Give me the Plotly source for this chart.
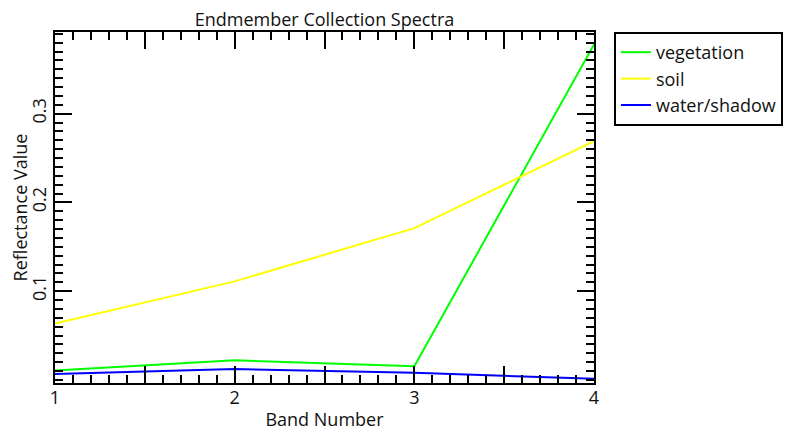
import plotly.graph_objects as go

bands = [1, 2, 3, 4]
vegetation = [0.0107, 0.0220, 0.0153, 0.378]
soil = [0.0635, 0.111, 0.171, 0.269]
water_shadow = [0.0066, 0.0122, 0.0081, 0.0012]

series_names = ["vegetation", "soil", "water/shadow"]
series_colors = ["#00ff00", "#ffff00", "#0000ff"]

x_tickvals = [1, 1.5, 2, 2.5, 3, 3.5, 4]
x_ticktext = ["1", "", "2", "", "3", "", "4"]
y_tickvals = [0.1, 0.2, 0.3]
y_ticktext = ["0.1", "0.2", "0.3"]

FONT = "Open Sans"
TXT = "#111"
FS = 18

fig = go.Figure()
for name, vals, col in zip(series_names, [vegetation, soil, water_shadow], series_colors):
    fig.add_trace(go.Scatter(x=bands, y=vals, mode="lines", name=name,
                             line=dict(color=col, width=2)))

axis_common = dict(
    showline=True, linecolor="black", linewidth=2, mirror="allticks",
    ticks="inside", tickcolor="black", tickwidth=2, ticklen=17,
    showgrid=False, zeroline=False, automargin=False,
    tickfont=dict(family=FONT, size=FS, color=TXT),
)

fig.update_layout(
    width=799, height=430,
    margin=dict(l=47, r=213, t=24, b=55),
    paper_bgcolor="white", plot_bgcolor="white",
    font=dict(family=FONT, size=FS, color=TXT),
    title=dict(text="Endmember Collection Spectra", x=0.5, xref="paper",
               xanchor="center", y=1 - 18 / 430, yref="container", yanchor="bottom",
               font=dict(family=FONT, size=FS, color=TXT)),
    xaxis=dict(range=[1, 4], tickvals=x_tickvals, ticktext=x_ticktext,
               ticklabelstandoff=-3,
               minor=dict(dtick=0.1, tick0=1, ticks="inside", ticklen=8,
                          tickcolor="black", tickwidth=2),
               title=dict(text="Band Number", standoff=6,
                          font=dict(family=FONT, size=FS, color=TXT)),
               **axis_common),
    yaxis=dict(range=[-0.0035, 0.392], tickvals=y_tickvals, ticktext=y_ticktext,
               tickangle=-90,
               minor=dict(dtick=0.01, tick0=0, ticks="inside", ticklen=8,
                          tickcolor="black", tickwidth=2),
               title=dict(text="Reflectance Value", standoff=11,
                          font=dict(family=FONT, size=FS, color=TXT)),
               **axis_common),
    legend=dict(x=1.037, xanchor="left", y=1, yanchor="top",
                bordercolor="black", borderwidth=2, bgcolor="white",
                font=dict(family=FONT, size=FS, color=TXT)),
)

fig.write_html("out.html")
